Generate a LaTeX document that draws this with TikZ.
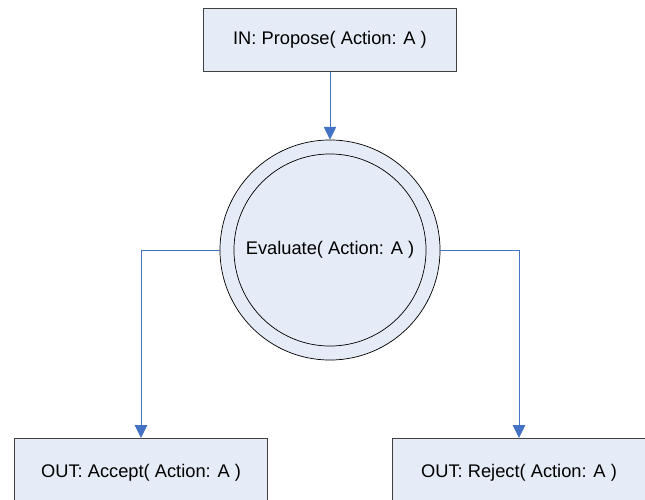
\documentclass[tikz,border=0pt]{standalone}
\usepackage{fontspec}
\setmainfont{Liberation Sans}
\usetikzlibrary{arrows.meta}
\definecolor{boxfill}{RGB}{230,236,247}
\definecolor{boxline}{RGB}{64,64,64}
\definecolor{linkblue}{RGB}{68,114,196}
\tikzset{
    box/.style={draw=boxline, fill=boxfill, line width=0.7pt, minimum width=6.3cm, minimum height=1.58cm, font=\fontsize{13}{15}\selectfont},
    ring/.style={circle, draw=black, fill=boxfill, line width=0.5pt, inner sep=0pt},
    link/.style={draw=linkblue, line width=0.7pt, -{Triangle[length=3.2mm,width=3.1mm]}}
}
\begin{document}
\begin{tikzpicture}[x=0.025cm,y=-0.025cm]
        \useasboundingbox (0,0) rectangle (645,500);
        % Nodi
        \node [box] (propose) at (330,40) {IN: Propose( Action: A )};
        \node [ring, minimum size=5.5cm] (evaluate) at (330,250) {};
        \node [ring, minimum size=4.8cm, font=\fontsize{13}{15}\selectfont] (evalin) at (evaluate.center) {Evaluate( Action: A )};
        \node [box, minimum height=1.7cm, anchor=north] (accept) at (141,438) {OUT: Accept( Action: A )};
        \node [box, minimum height=1.7cm, anchor=north] (reject) at (519,438) {OUT: Reject( Action: A )};
        % Frecce
        \draw [link] (propose) -- (evaluate);
        \draw [link] (evaluate.west) -| (accept.north);
        \draw [link] (evaluate.east) -| (reject.north);
    \end{tikzpicture}
\end{document}
